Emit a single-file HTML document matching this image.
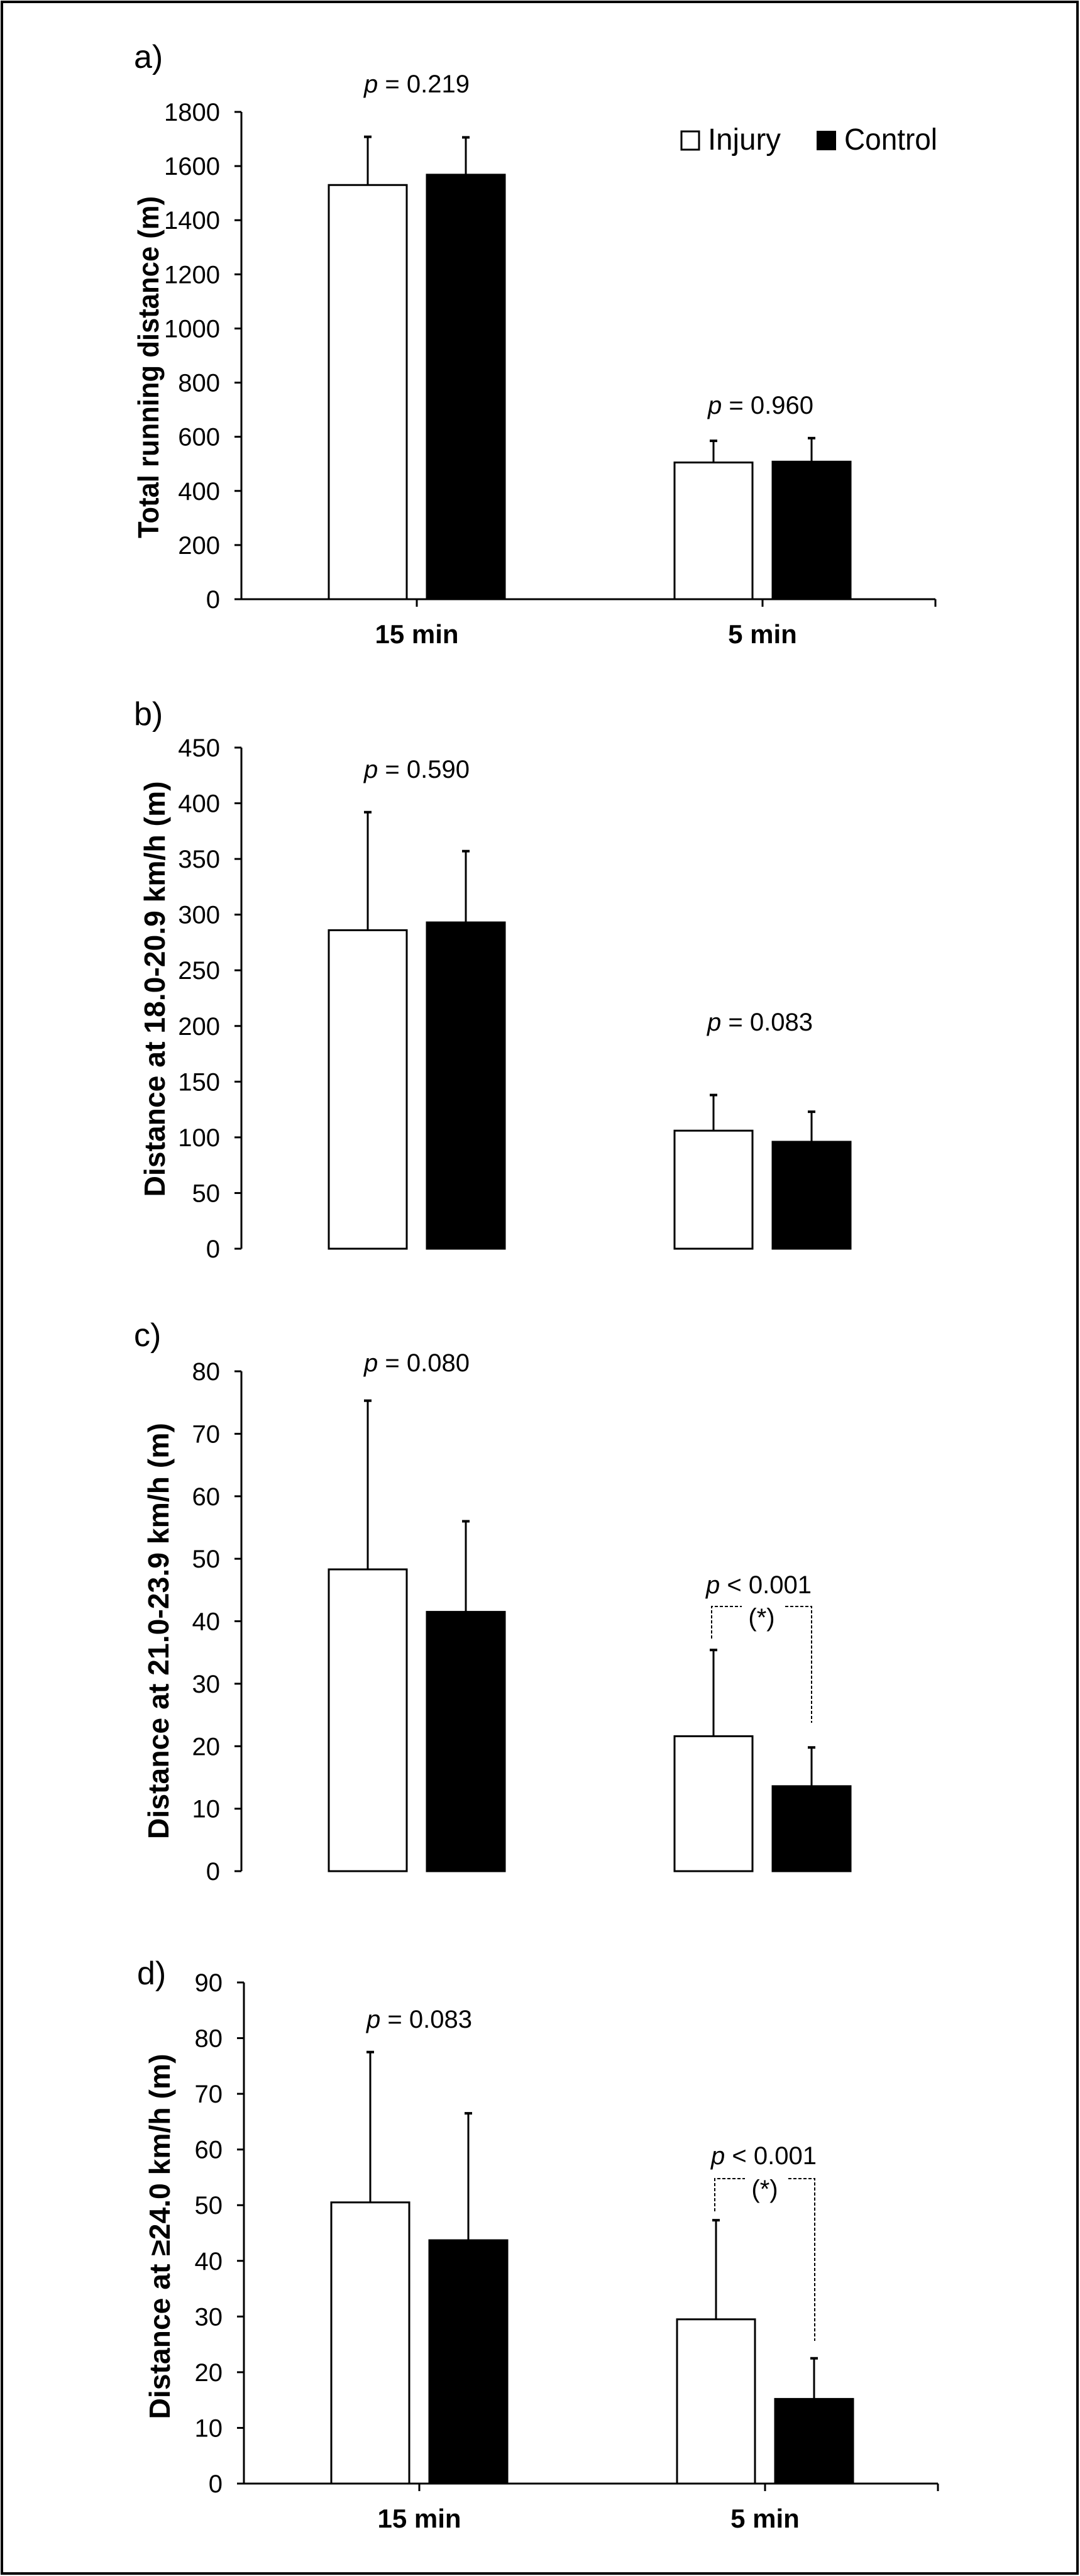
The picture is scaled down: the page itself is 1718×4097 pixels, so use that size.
<!DOCTYPE html>
<html><head><meta charset="utf-8"><style>
html,body{margin:0;padding:0;background:#fff;}
svg{display:block;}
text{font-family:"Liberation Sans Narrow","Liberation Sans",sans-serif;fill:#000;}
</style></head><body>
<svg id="fig" width="1718" height="4097" viewBox="0 0 1718 4097" xmlns="http://www.w3.org/2000/svg">
<rect x="3" y="3" width="1711" height="4090" fill="none" stroke="#000" stroke-width="4"/>
</svg>
<script>
// ---- data ----
const categories = ["15 min", "5 min"];
const panelLetters = ["a)", "b)", "c)", "d)"];
const yTitles = ["Total running distance (m)", "Distance at 18.0-20.9 km/h  (m)", "Distance at 21.0-23.9 km/h  (m)", "Distance at \u226524.0 km/h  (m)"];
const yMaxes = [1800, 450, 80, 90];
const yStepsA = [0, 200, 400, 600, 800, 1000, 1200, 1400, 1600, 1800];
const yStepsB = [0, 50, 100, 150, 200, 250, 300, 350, 400, 450];
const yStepsC = [0, 10, 20, 30, 40, 50, 60, 70, 80];
const yStepsD = [0, 10, 20, 30, 40, 50, 60, 70, 80, 90];
const injuryA = [1530, 505];
const controlA = [1568, 508];
const injuryErrTopA = [1708, 585];
const controlErrTopA = [1706, 595];
const injuryB = [286, 106];
const controlB = [293, 96];
const injuryErrTopB = [392, 138];
const controlErrTopB = [357, 123];
const injuryC = [48.3, 21.6];
const controlC = [41.5, 13.6];
const injuryErrTopC = [75.3, 35.4];
const controlErrTopC = [56, 19.8];
const injuryD = [50.5, 29.5];
const controlD = [43.7, 15.2];
const injuryErrTopD = [77.5, 47.3];
const controlErrTopD = [66.5, 22.5];
const pLabelsA = ["= 0.219", "= 0.960"];
const pLabelsB = ["= 0.590", "= 0.083"];
const pLabelsC = ["= 0.080", "< 0.001"];
const pLabelsD = ["= 0.083", "< 0.001"];

// ---- layout (not data) ----
const NS = "http://www.w3.org/2000/svg";
const svg = document.getElementById("fig");
function mk(tag, attrs, parent) {
  const e = document.createElementNS(NS, tag);
  for (const k in attrs) e.setAttribute(k, attrs[k]);
  (parent || svg).appendChild(e);
  return e;
}
const layouts = [
  {y0: 953, yTop: 178, ax: 384, xEnd: 1488, letterY: 108, letterX: 213, titleX: 236, titleC: 584, titleL: 544, xAxis: true, catY: 1023, pY: [133, 0], pX: [663, 1210], ticksVals: yStepsA, inj: injuryA, con: controlA, ie: injuryErrTopA, ce: controlErrTopA, pl: pLabelsA, bracket: null},
  {y0: 1986, yTop: 1189, ax: 384, xEnd: 1488, letterY: 1153, letterX: 213, titleX: 246, titleC: 1573, titleL: 661, xAxis: false, pY: [1223, 1625], pX: [663, 1209], ticksVals: yStepsB, inj: injuryB, con: controlB, ie: injuryErrTopB, ce: controlErrTopB, pl: pLabelsB, bracket: null},
  {y0: 2976, yTop: 2181, ax: 384, xEnd: 1488, letterY: 2141, letterX: 213, titleX: 252, titleC: 2594, titleL: 662, xAxis: false, pY: [2167, 2520], pX: [663, 1207], ticksVals: yStepsC, inj: injuryC, con: controlC, ie: injuryErrTopC, ce: controlErrTopC, pl: pLabelsC, bracket: {top: 2555, lx: 1132, ly: 2606, rx: 1291, ry: 2740, sy: 2570}},
  {y0: 3950, yTop: 3153, ax: 388, xEnd: 1492, letterY: 3156, letterX: 218, titleX: 254, titleC: 3557, titleL: 581, xAxis: true, catY: 4020, pY: [3211, 3428], pX: [663, 1211], ticksVals: yStepsD, inj: injuryD, con: controlD, ie: injuryErrTopD, ce: controlErrTopD, pl: pLabelsD, bracket: {top: 3465, lx: 1137, ly: 3517, rx: 1296, ry: 3723, sy: 3479}}
];
// p label y of panel a second group
layouts[0].pY[1] = 644;

layouts.forEach((L, pi) => {
  const g = mk("g", {});
  
  
  const max = yMaxes[pi];
  const yS = v => L.y0 - (v / max) * (L.y0 - L.yTop);
  const dx = L.ax - 384;
  const cx = i => [663, 1213][i] + dx;

  const letter = mk("text", {x: L.letterX, y: L.letterY, "font-size": 52}, g);
  letter.textContent = panelLetters[pi];
  
  

  // y axis
  const yl = mk("line", {x1: L.ax, y1: L.yTop, x2: L.ax, y2: L.y0, stroke: "#000", "stroke-width": 3}, g);
  
  
  L.ticksVals.forEach(v => {
    const y = yS(v);
    const t = mk("line", {x1: L.ax - 11, y1: y, x2: L.ax, y2: y, stroke: "#000", "stroke-width": 3}, g);
    
    
    const lb = mk("text", {x: L.ax - 34, y: y + 14, "font-size": 40, "text-anchor": "end"}, g);
    lb.textContent = v;
    
    
  });
  const tt = mk("text", {x: 0, y: 0, "font-size": 46, "font-weight": "bold", "text-anchor": "middle", "font-family": "Liberation Sans, sans-serif", textLength: L.titleL, lengthAdjust: "spacingAndGlyphs", transform: `translate(${L.titleX + 16},${L.titleC}) rotate(-90)`}, g);
  tt.textContent = yTitles[pi];
  
  

  if (L.xAxis) {
    const xl = mk("line", {x1: L.ax - 11, y1: L.y0, x2: L.xEnd, y2: L.y0, stroke: "#000", "stroke-width": 3}, g);
    
    
    [cx(0), cx(1), L.xEnd].forEach(x => {
      const t = mk("line", {x1: x, y1: L.y0, x2: x, y2: L.y0 + 12, stroke: "#000", "stroke-width": 3}, g);
      
      
    });
    categories.forEach((c, i) => {
      const t = mk("text", {x: cx(i), y: L.catY, "font-size": 42, "font-weight": "bold", "text-anchor": "middle"}, g);
      t.textContent = c;
      
      
    });
  }

  categories.forEach((c, i) => {
    // error bars first
    [[L.ie[i], L.inj[i], cx(i) - 78], [L.ce[i], L.con[i], cx(i) + 78]].forEach(([top, val, x], k) => {
      const e = mk("line", {x1: x, y1: yS(top), x2: x, y2: yS(val), stroke: "#000", "stroke-width": 3}, g);
      
      
      const cap = mk("line", {x1: x - 6, y1: yS(top), x2: x + 6, y2: yS(top), stroke: "#000", "stroke-width": 4}, g);
      
      
    });
    const bi = mk("rect", {x: cx(i) - 140, y: yS(L.inj[i]), width: 124, height: yS(0) - yS(L.inj[i]), fill: "#fff", stroke: "#000", "stroke-width": 3}, g);
    
    
    const bc = mk("rect", {x: cx(i) + 16, y: yS(L.con[i]), width: 124, height: yS(0) - yS(L.con[i]), fill: "#000", stroke: "#000", "stroke-width": 3}, g);
    
    
    // p label
    const pt = mk("text", {x: L.pX[i] + dx, y: L.pY[i] + 14, "font-size": 40, "text-anchor": "middle"}, g);
    const ps = mk("tspan", {"font-style": "italic"}, pt);
    ps.textContent = "p";
    const pv = mk("tspan", {}, pt);
    pv.textContent = " " + L.pl[i];
    
    
  });

  if (L.bracket) {
    const B = L.bracket;
    const d = `M${B.lx},${B.ly} L${B.lx},${B.top} L${B.lx + 48},${B.top} M${B.rx - 42},${B.top} L${B.rx},${B.top} L${B.rx},${B.ry}`;
    const br = mk("path", {d: d, fill: "none", stroke: "#000", "stroke-width": 2, "stroke-dasharray": "5,3"}, g);
    
    
    const st = mk("text", {x: (B.lx + B.rx) / 2, y: B.sy + 16, "font-size": 40, "text-anchor": "middle"}, g);
    st.textContent = "(*)";
    
    
  }
});

// legend
const lg = mk("g", {});


const lb1 = mk("rect", {x: 1084, y: 209, width: 28, height: 29, fill: "#fff", stroke: "#000", "stroke-width": 3}, lg);


const lt1 = mk("text", {x: 1126, y: 238, "font-size": 48, textLength: 116, lengthAdjust: "spacingAndGlyphs"}, lg);
lt1.textContent = "Injury";


const lb2 = mk("rect", {x: 1299, y: 208, width: 31, height: 31, fill: "#000"}, lg);


const lt2 = mk("text", {x: 1343, y: 238, "font-size": 48, textLength: 148, lengthAdjust: "spacingAndGlyphs"}, lg);
lt2.textContent = "Control";


</script>
</body></html>
